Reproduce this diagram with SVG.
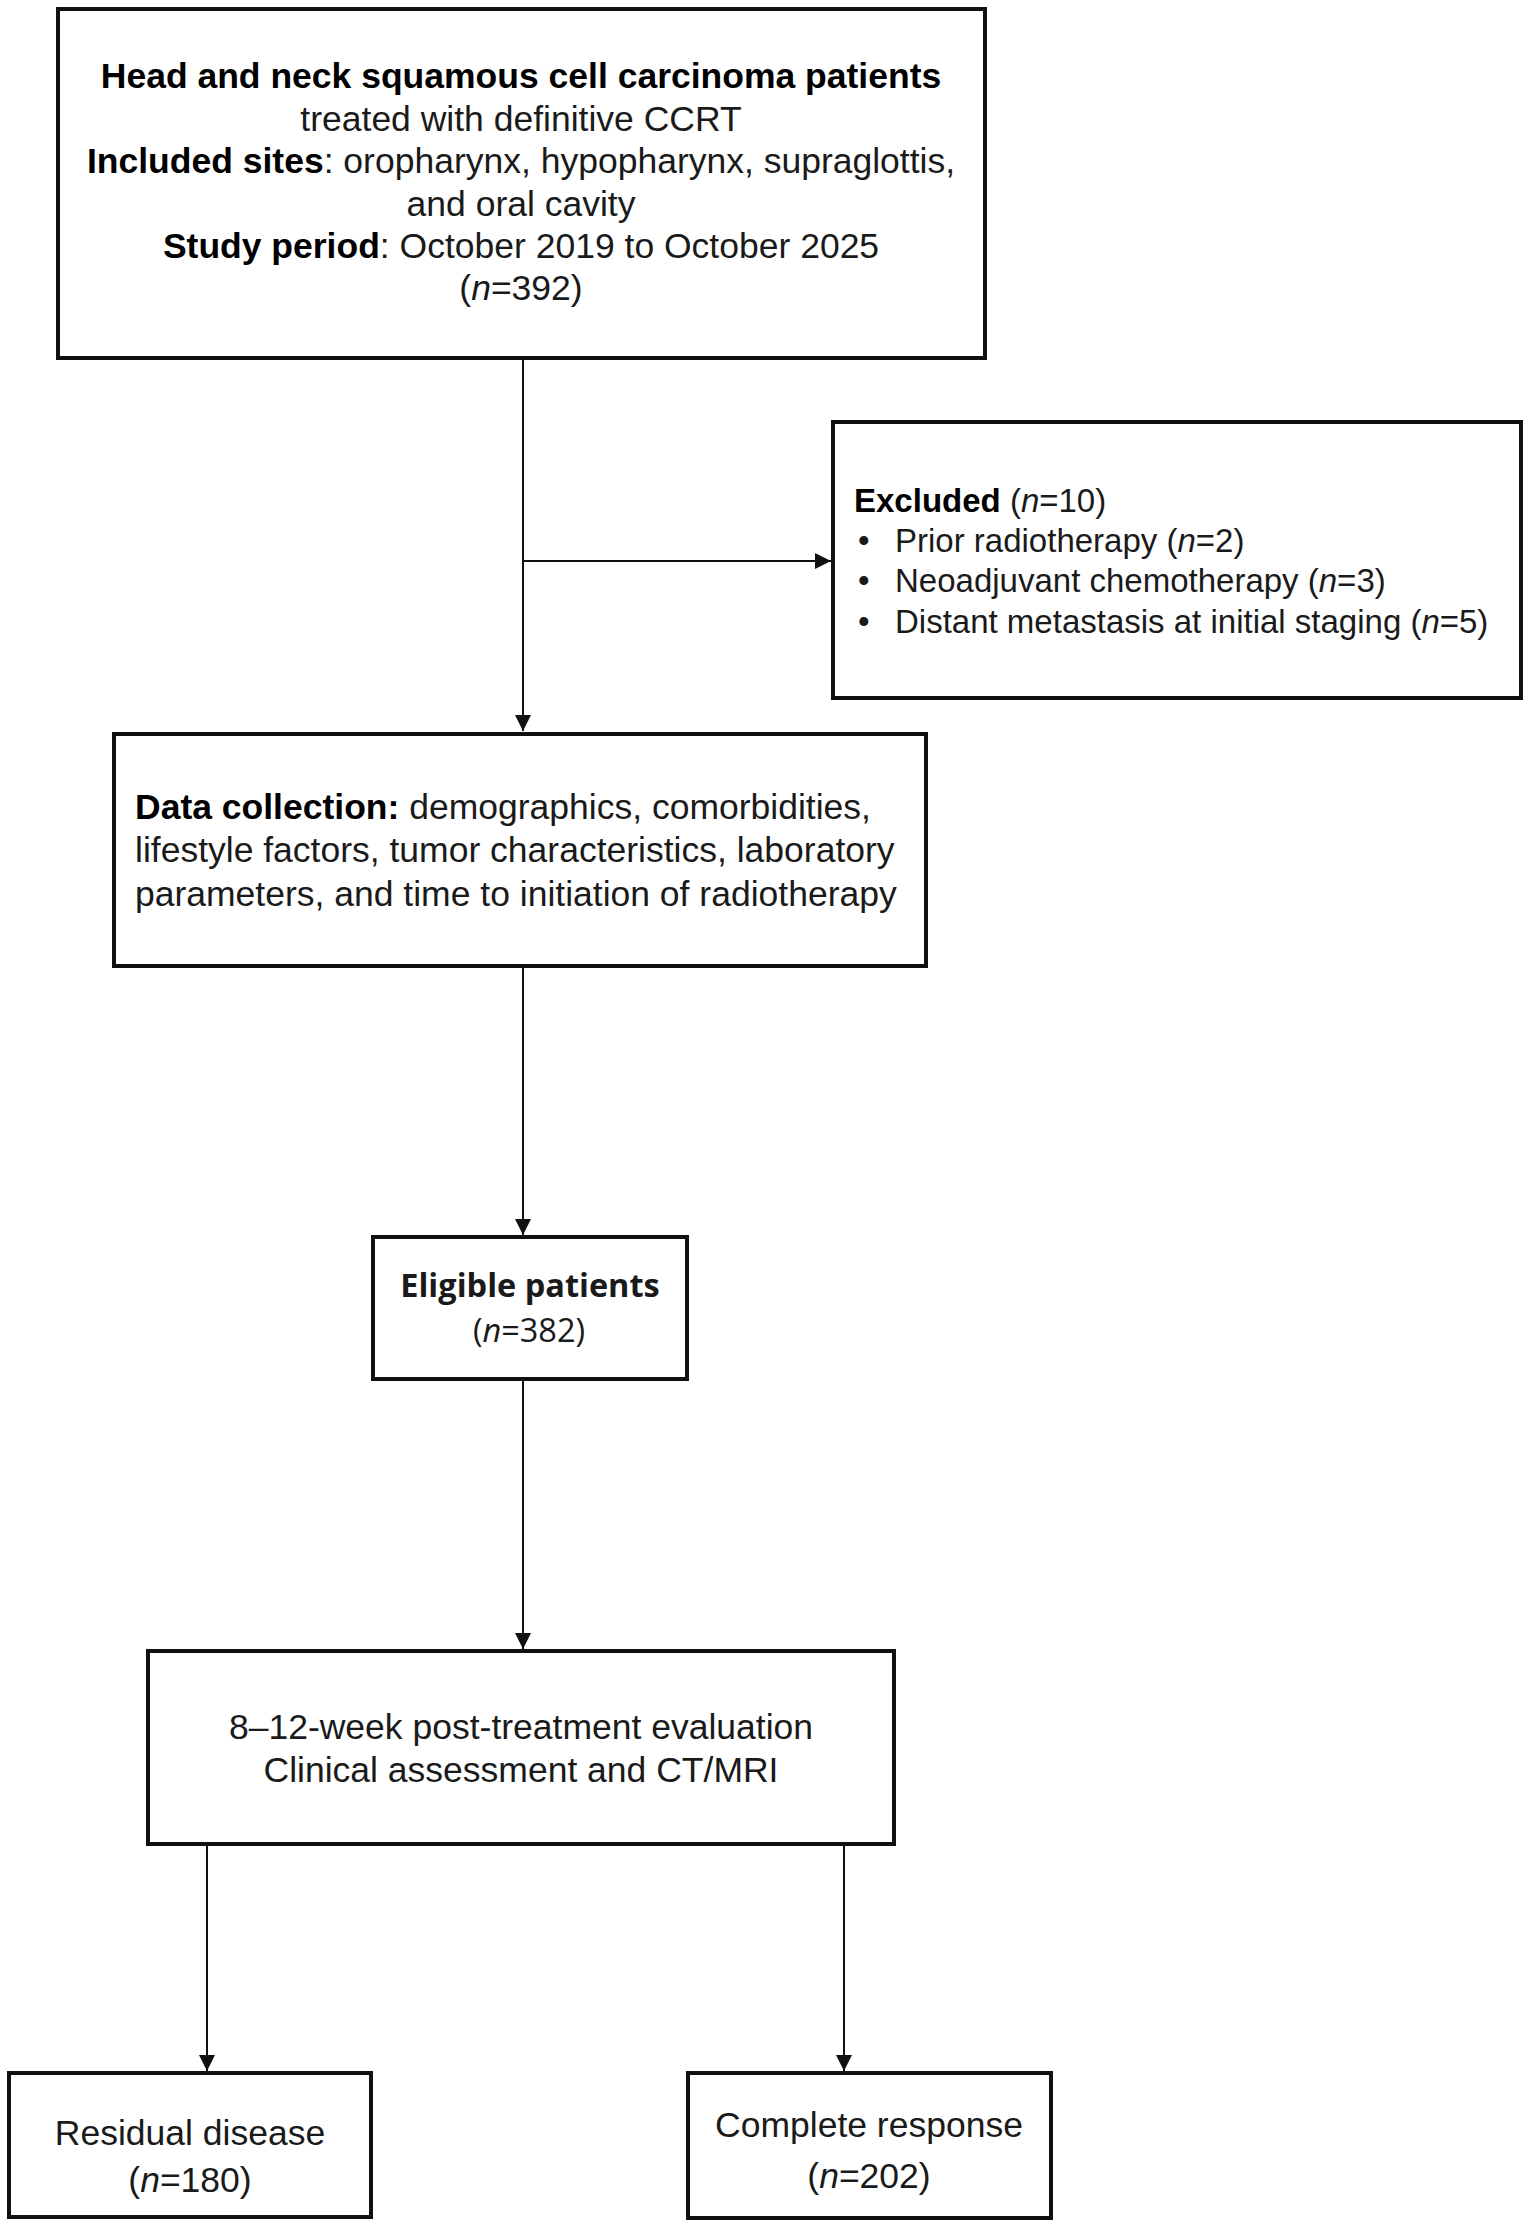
<svg xmlns="http://www.w3.org/2000/svg" width="1535" height="2233" viewBox="0 0 1535 2233">
<style>
.box{fill:#fff;stroke:#111;stroke-width:4}
.t{font-family:"Liberation Sans",Arial,sans-serif;font-size:35.5px;fill:#1a1a1a}
.c{text-anchor:middle}
.b{font-weight:bold;fill:#000}
.i{font-style:italic}
.ex{font-size:33px}
.ap{font-family:"Open Sans","Noto Sans",sans-serif;font-size:32.5px;fill:#1a1a1a}
.conn{fill:none;stroke:#111;stroke-width:2}
</style>
<defs>
<marker id="arr" markerUnits="userSpaceOnUse" markerWidth="16" markerHeight="16" refX="16" refY="8" orient="auto">
<path d="M0,0 L16,8 L0,16 z" fill="#111"/>
</marker>
</defs>
<rect width="1535" height="2233" fill="#fff"/>
<g id="connectors">
<path class="conn" d="M523 360 V731" marker-end="url(#arr)"/>
<path class="conn" d="M523 561 H831" marker-end="url(#arr)"/>
<path class="conn" d="M523 968 V1235" marker-end="url(#arr)"/>
<path class="conn" d="M523 1381 V1649" marker-end="url(#arr)"/>
<path class="conn" d="M207 1846 V2071" marker-end="url(#arr)"/>
<path class="conn" d="M844 1846 V2071" marker-end="url(#arr)"/>
</g>
<g id="node-population">
<rect class="box" x="58" y="9" width="927" height="349"/>
<text class="t c" x="521" y="88"><tspan class="b">Head and neck squamous cell carcinoma patients</tspan></text>
<text class="t c" x="521" y="131">treated with definitive CCRT</text>
<text class="t c" x="521" y="173"><tspan class="b">Included sites</tspan>: oropharynx, hypopharynx, supraglottis,</text>
<text class="t c" x="521" y="216">and oral cavity</text>
<text class="t c" x="521" y="258"><tspan class="b">Study period</tspan>: October 2019 to October 2025</text>
<text class="t c" x="521" y="300">(<tspan class="i">n</tspan>=392)</text>
</g>
<g id="node-excluded">
<rect class="box" x="833" y="422" width="688" height="276"/>
<text class="t ex" x="854" y="512"><tspan class="b">Excluded</tspan> (<tspan class="i">n</tspan>=10)</text>
<text class="t ex" x="858" y="552">•</text>
<text class="t ex" x="895" y="552">Prior radiotherapy (<tspan class="i">n</tspan>=2)</text>
<text class="t ex" x="858" y="592">•</text>
<text class="t ex" x="895" y="592">Neoadjuvant chemotherapy (<tspan class="i">n</tspan>=3)</text>
<text class="t ex" x="858" y="633">•</text>
<text class="t ex" x="895" y="633">Distant metastasis at initial staging (<tspan class="i">n</tspan>=5)</text>
</g>
<g id="node-data">
<rect class="box" x="114" y="734" width="812" height="232"/>
<text class="t" x="135" y="819"><tspan class="b">Data collection:</tspan> demographics, comorbidities,</text>
<text class="t" x="135" y="862">lifestyle factors, tumor characteristics, laboratory</text>
<text class="t" x="135" y="906">parameters, and time to initiation of radiotherapy</text>
</g>
<g id="node-eligible">
<rect class="box" x="373" y="1237" width="314" height="142"/>
<text class="ap c" x="530" y="1297" font-weight="bold" fill="#000">Eligible patients</text>
<text class="ap c" x="529" y="1342">(<tspan font-style="italic">n</tspan>=382)</text>
</g>
<g id="node-evaluation">
<rect class="box" x="148" y="1651" width="746" height="193"/>
<text class="t c" x="521" y="1739">8–12-week post-treatment evaluation</text>
<text class="t c" x="521" y="1782">Clinical assessment and CT/MRI</text>
</g>
<g id="node-residual">
<rect class="box" x="9" y="2073" width="362" height="144"/>
<text class="t c" x="190" y="2145">Residual disease</text>
<text class="t c" x="190" y="2192">(<tspan class="i">n</tspan>=180)</text>
</g>
<g id="node-complete">
<rect class="box" x="688" y="2073" width="363" height="145"/>
<text class="t c" x="869" y="2137">Complete response</text>
<text class="t c" x="869" y="2188">(<tspan class="i">n</tspan>=202)</text>
</g>
</svg>
